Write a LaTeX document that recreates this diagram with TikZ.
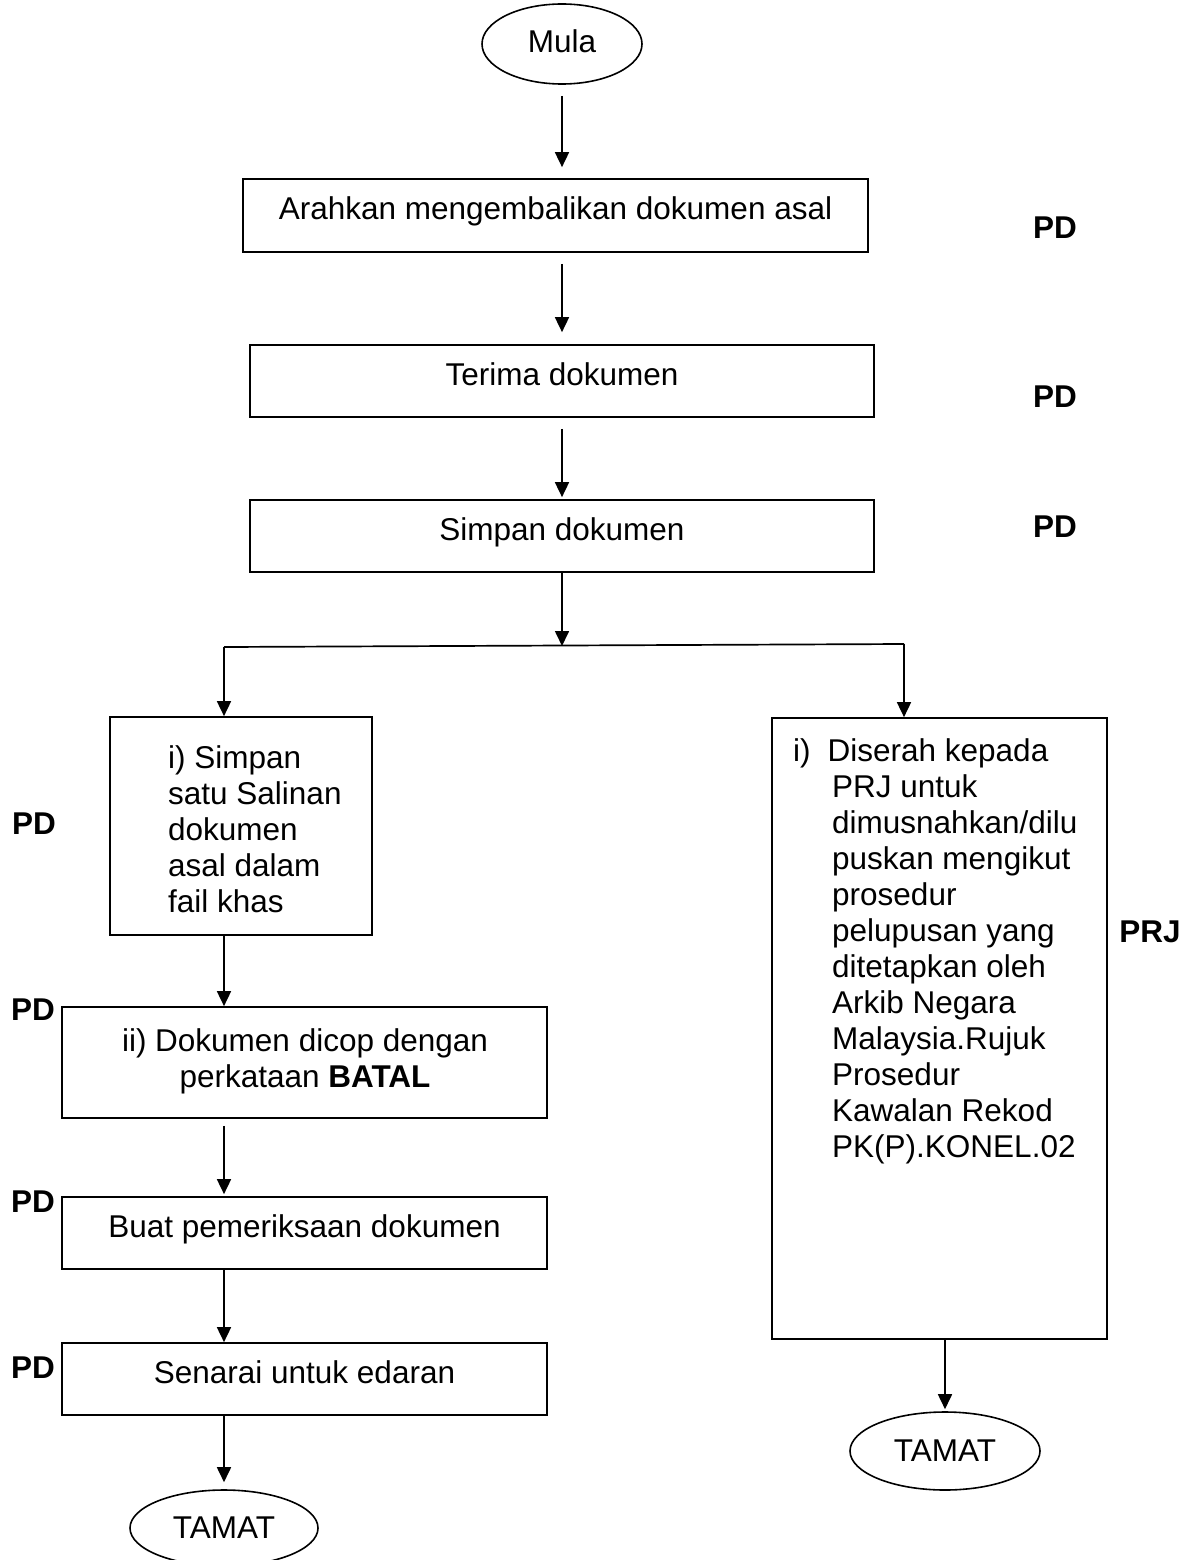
\documentclass[tikz,border=0pt]{standalone}
\usepackage{fontspec}
\setmainfont{Liberation Sans}
\usetikzlibrary{arrows.meta,shapes.geometric}
\begin{document}
\begin{tikzpicture}[x=1pt,y=-1pt,
  every node/.style={font=\fontsize{31.5}{36}\selectfont, inner sep=0pt},
  box/.style={draw, line width=1.7pt, rectangle},
  onerow/.style={text height=23pt, text depth=15pt},
  term/.style={draw, line width=1.6pt, ellipse},
  flow/.style={line width=1.7pt, -{Triangle[length=15pt,width=14pt]}},
  role/.style={font=\fontsize{31.5}{36}\selectfont\bfseries},
  body/.style={align=left}]
\useasboundingbox (0,0) rectangle (1189,1560);

% main column
\node[term, minimum width=160pt, minimum height=80pt, text depth=6pt] (mula) at (562,44) {Mula};
\node[box, onerow, minimum width=625pt, minimum height=73pt] (arah) at (555.5,215.5) {Arahkan mengembalikan dokumen asal};
\node[box, onerow, minimum width=624pt, minimum height=72pt] (terima) at (562,381) {Terima dokumen};
\node[box, onerow, minimum width=624pt, minimum height=72pt] (simpan) at (562,536) {Simpan dokumen};

% left branch
\node[box, minimum width=262pt, minimum height=218pt] (salin) at (241,826) {};
\node[body, anchor=north west] (salint) at (168,745) {i) Simpan\\satu Salinan\\dokumen\\asal dalam\\fail khas};
\node[box, minimum width=485pt, minimum height=111pt] (batal) at (304.5,1062.5) {};
\node[align=center, anchor=north] (batalt) at (305,1028) {ii) Dokumen dicop dengan\\perkataan \textbf{BATAL}};
\node[box, onerow, minimum width=485pt, minimum height=72pt] (periksa) at (304.5,1233) {Buat pemeriksaan dokumen};
\node[box, onerow, minimum width=485pt, minimum height=72pt] (senarai) at (304.5,1379) {Senarai untuk edaran};
\node[term, minimum width=188pt, minimum height=76pt] (tamatL) at (224,1528) {TAMAT};

% right branch
\node[box, minimum width=335pt, minimum height=621pt] (serah) at (939.5,1028.5) {};
\node[body, anchor=north west] (seraht) at (793,738) {i)\hspace{17pt}Diserah kepada\\
\hspace*{39pt}PRJ untuk\\
\hspace*{39pt}dimusnahkan/dilu\\
\hspace*{39pt}puskan mengikut\\
\hspace*{39pt}prosedur\\
\hspace*{39pt}pelupusan yang\\
\hspace*{39pt}ditetapkan oleh\\
\hspace*{39pt}Arkib Negara\\
\hspace*{39pt}Malaysia.Rujuk\\
\hspace*{39pt}Prosedur\\
\hspace*{39pt}Kawalan Rekod\\
\hspace*{39pt}PK(P).KONEL.02};
\node[term, minimum width=190pt, minimum height=78pt] (tamatR) at (945,1451) {TAMAT};

% responsibility labels
\node[role] (pdA) at (1055,228) {PD};
\node[role] (pdB) at (1055,397) {PD};
\node[role] (pdC) at (1055,527) {PD};
\node[role] (prj) at (1150,932) {PRJ};
\node[role] (pdD) at (34,824) {PD};
\node[role] (pdE) at (33,1010) {PD};
\node[role] (pdF) at (33,1202) {PD};
\node[role] (pdG) at (33,1368) {PD};

% junction of the two branches
\coordinate (jm) at (562,646);
\coordinate (jl) at (224,647);
\coordinate (jr) at (904,644);

% connectors
\draw[flow, shorten <=11pt, shorten >=11pt] (mula.south) -- (mula.south |- arah.north);
\draw[flow, shorten <=11pt, shorten >=12pt] (terima.north |- arah.south) -- (terima.north);
\draw[flow, shorten <=11pt, shorten >=2pt] (terima.south) -- (simpan.north);
\draw[flow] (simpan.south) -- (jm);
\draw[line width=1.7pt] (jl) -- (jr);
\draw[flow] (jl) -- (jl |- salin.north);
\draw[flow] (jr) -- (jr |- serah.north);
\draw[flow] (jl |- salin.south) -- (jl |- batal.north);
\draw[flow, shorten <=7pt, shorten >=2pt] (jl |- batal.south) -- (jl |- periksa.north);
\draw[flow] (jl |- periksa.south) -- (jl |- senarai.north);
\draw[flow, shorten >=7pt] (jl |- senarai.south) -- (tamatL.north);
\draw[flow, shorten >=2pt] (tamatR.north |- serah.south) -- (tamatR.north);
\end{tikzpicture}
\end{document}
